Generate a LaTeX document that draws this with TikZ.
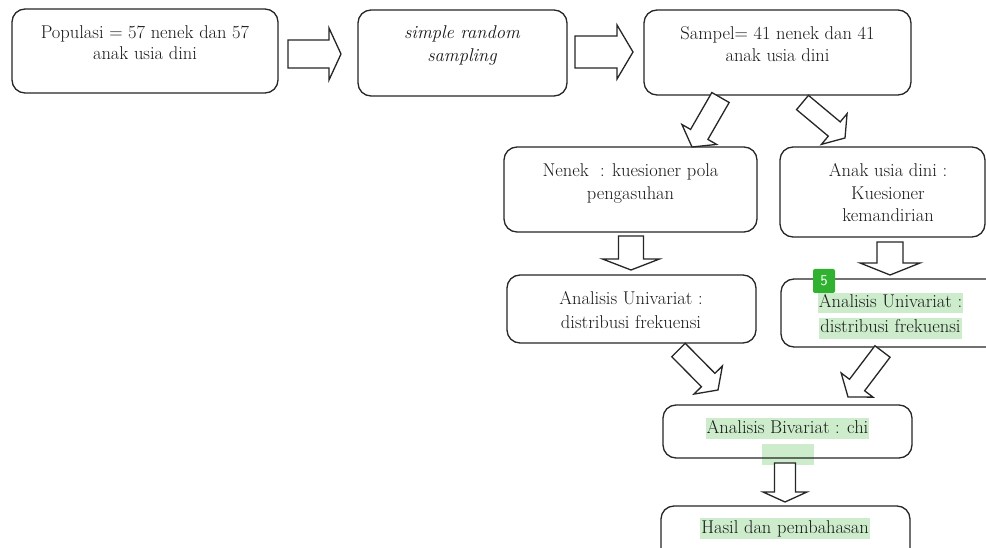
\documentclass[tikz,border=0pt]{standalone}
\usetikzlibrary{calc}
\definecolor{hl}{RGB}{204,236,204}
\definecolor{badgegreen}{RGB}{48,178,48}
\definecolor{boxline}{RGB}{38,38,38}
\newcommand\blockarrow[5]{% start, tip, half shaft, half head, head length
  \coordinate (hb) at ($(#2)!#5!(#1)$);
  \draw[barrow] ($(#1)!#3!90:(#2)$) -- ($(hb)!#3!90:(#2)$) -- ($(hb)!#4!90:(#2)$)
    -- (#2) -- ($(hb)!#4!-90:(#2)$) -- ($(hb)!#3!-90:(#2)$) -- ($(#1)!#3!-90:(#2)$) -- cycle;
}
\begin{document}
\begin{tikzpicture}[x=1pt,y=-1pt,
  box/.style={draw=boxline, line width=1.3pt, rounded corners=13pt, inner sep=0pt},
  txt/.style={inner sep=0pt, anchor=base, text=black!90, font=\fontsize{18.5}{20}\selectfont},
  hltxt/.style={txt, fill=hl, text height=15pt, text depth=5.5pt, inner xsep=1pt},
  barrow/.style={draw=black!85, line width=1.3pt, line join=miter, fill=white},
  badge/.style={fill=badgegreen, text=white, rounded corners=2pt, minimum width=22pt,
    minimum height=24pt, inner sep=0pt, font=\sffamily\fontsize{15}{15}\selectfont}]
\useasboundingbox (0,0) rectangle (986,548);
\clip (0,0) rectangle (986,548);
\fill[white] (0,0) rectangle (986,548);

% extra highlight behind box 8 border
\node[fill=hl, minimum width=52pt, minimum height=21pt, inner sep=0pt] (hlx) at (788,454.5) {};

% boxes
\node[box, minimum width=266pt, minimum height=84pt] (b1) at (145,51) {};
\node[box, minimum width=209pt, minimum height=86pt] (b2) at (462.5,53) {};
\node[box, minimum width=267pt, minimum height=85pt] (b3) at (777.5,52.5) {};
\node[box, minimum width=253pt, minimum height=85pt] (b4) at (630.5,189.5) {};
\node[box, minimum width=205pt, minimum height=90pt] (b5) at (882.5,192) {};
\node[box, minimum width=249pt, minimum height=68pt] (b6) at (631.5,309) {};
\node[box, minimum width=229pt, minimum height=68pt] (b7) at (895.5,313) {};
\node[box, minimum width=249pt, minimum height=53pt] (b8) at (787.5,431.5) {};
\node[box, minimum width=249pt, minimum height=64pt] (b9) at (785.5,538) {};

% texts
\node[txt] (t1a) at (145,39) {Populasi = 57 nenek dan 57};
\node[txt] (t1b) at (145,60) {anak usia dini};
\node[txt, font=\fontsize{18.5}{20}\selectfont\itshape] (t2a) at (462,39) {simple random};
\node[txt, font=\fontsize{18.5}{20}\selectfont\itshape] (t2b) at (462,62) {sampling};
\node[txt] (t3a) at (777.5,40) {Sampel= 41 nenek dan 41};
\node[txt] (t3b) at (777.5,62) {anak usia dini};
\node[txt] (t4a) at (630.5,177) {Nenek\ \ : kuesioner pola};
\node[txt] (t4b) at (630.5,200) {pengasuhan};
\node[txt] (t5a) at (888,177) {Anak usia dini :};
\node[txt] (t5b) at (888,200) {Kuesioner};
\node[txt] (t5c) at (888,222) {kemandirian};
\node[txt] (t6a) at (631,305) {Analisis Univariat :};
\node[txt] (t6b) at (631,328) {distribusi frekuensi};
\node[hltxt] (t7a) at (890.5,308) {Analisis Univariat :};
\node[hltxt] (t7b) at (890.5,333) {distribusi frekuensi};
\node[hltxt] (t8) at (787.5,433) {Analisis Bivariat : chi};
\node[hltxt] (t9) at (785,533) {Hasil dan pembahasan};

\node[badge] (bd) at (824,281) {5};

% arrow end points
\coordinate (a1s) at (288,54);   \coordinate (a1e) at (341,54);
\coordinate (a2s) at (575,52);   \coordinate (a2e) at (633,52);
\coordinate (d1s) at (720.5,97.5); \coordinate (d1e) at (692,147);
\coordinate (d2s) at (802.5,102.5); \coordinate (d2e) at (845,138);
\coordinate (v1s) at (631,236);  \coordinate (v1e) at (631,270);
\coordinate (v2s) at (890,242);  \coordinate (v2e) at (890,275);
\coordinate (d3s) at (678.5,350); \coordinate (d3e) at (718,390);
\coordinate (d4s) at (882.5,351.5); \coordinate (d4e) at (848,397);
\coordinate (v3s) at (785,463);  \coordinate (v3e) at (785,502);

\blockarrow{a1s}{a1e}{14pt}{26pt}{12pt}
\blockarrow{a2s}{a2e}{16pt}{27pt}{16pt}
\blockarrow{d1s}{d1e}{10pt}{20pt}{14.5pt}
\blockarrow{d2s}{d2e}{9.3pt}{20pt}{14pt}
\blockarrow{v1s}{v1e}{12.5pt}{28.5pt}{11pt}
\blockarrow{v2s}{v2e}{13pt}{30pt}{12pt}
\blockarrow{d3s}{d3e}{9.5pt}{20pt}{14pt}
\blockarrow{d4s}{d4e}{9.5pt}{20pt}{15pt}
\blockarrow{v3s}{v3e}{10.5pt}{22pt}{10pt}
\end{tikzpicture}
\end{document}
